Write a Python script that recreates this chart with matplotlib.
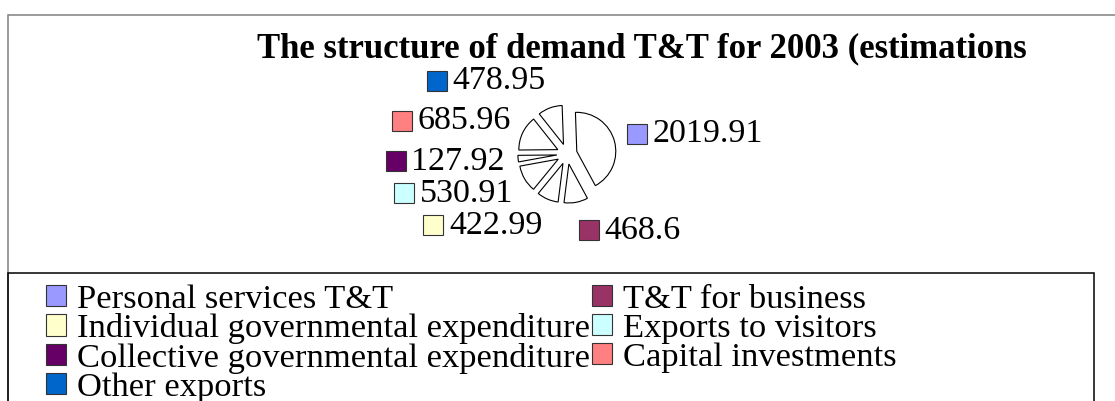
import numpy as np
import matplotlib
matplotlib.use("Agg")
import matplotlib.pyplot as plt
from matplotlib.patches import Rectangle, Patch
from matplotlib.offsetbox import DrawingArea, TextArea, HPacker, AnnotationBbox

plt.rcParams['font.family'] = ['Liberation Serif', 'DejaVu Serif']

categories = ['Personal services T&T', 'T&T for business',
              'Individual governmental expenditure', 'Exports to visitors',
              'Collective governmental expenditure', 'Capital investments',
              'Other exports']
values = [2019.91, 468.6, 422.99, 530.91, 127.92, 685.96, 478.95]
colors = ['#9999FF', '#993366', '#FFFFCC', '#CCFFFF', '#660066', '#FF8080', '#0066CC']
title = 'The structure of demand T&T for 2003 (estimations'

W, H = 1115, 401
fig = plt.figure(figsize=(W / 100, H / 100), dpi=100)

# frames
fig.patches.append(Rectangle((8 / W, -0.1), 1.2, 1.1 - 15 / H, transform=fig.transFigure,
                             fill=False, edgecolor='#808080', linewidth=1.1))
fig.patches.append(Rectangle((8 / W, -0.1), (1094 - 8) / W, 0.1 + (H - 273) / H,
                             transform=fig.transFigure, fill=False,
                             edgecolor='black', linewidth=1.1))

fig.text(642 / W, 1 - 57 / H, title, ha='center', va='baseline',
         fontsize=25, fontweight='bold')

# pie axes: 1 data unit = 39 px, centre at (567, 154) px
cx, cy, r, half = 567, 154, 39, 150
ax = fig.add_axes([(cx - half) / W, (H - cy - half) / H, 2 * half / W, 2 * half / H])
ax.axis('off')

explode = [0.26] * len(values)
wedges, _ = ax.pie(values, startangle=92, counterclock=False, explode=explode,
                   colors=['white'] * len(values),
                   wedgeprops=dict(edgecolor='black', linewidth=0.8))
ax.set_xlim(-half / r, half / r)
ax.set_ylim(-half / r, half / r)

label_dist = 1.6
for w, v, c in zip(wedges, values, colors):
    ang = np.deg2rad((w.theta1 + w.theta2) / 2)
    ca, sa = np.cos(ang), np.sin(ang)
    da = DrawingArea(14.4, 14.4)
    da.add_artist(Rectangle((0, 0), 14.4, 14.4, facecolor=c, edgecolor='#333333', linewidth=0.8))
    ta = TextArea(f'{v:g}', textprops=dict(fontsize=24.5))
    box = HPacker(children=[da, ta], align='center', pad=0, sep=4)
    ab = AnnotationBbox(box, (label_dist * ca, label_dist * sa), xycoords='data',
                        box_alignment=(0 if ca > 0 else 1, 0.5 - 0.5 * sa),
                        frameon=False, pad=0)
    ax.add_artist(ab)

# legend, row-major order in two columns
order = [0, 2, 4, 6, 1, 3, 5]
handles = [Patch(facecolor=colors[i], edgecolor='#333333', linewidth=0.8) for i in order]
labels = [categories[i] for i in order]
fig.legend(handles, labels, ncol=2, loc='upper left', bbox_to_anchor=(46 / W, 1 - 284 / H),
           frameon=False, fontsize=24.8, handlelength=0.58, handleheight=0.58,
           handletextpad=0.32, columnspacing=0.05, labelspacing=-0.04,
           borderpad=0, borderaxespad=0)

fig.savefig('out.png', dpi=100)
